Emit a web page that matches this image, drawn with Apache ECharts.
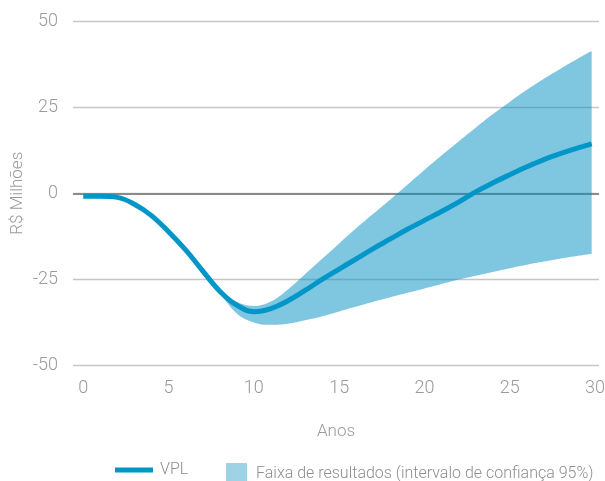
<!DOCTYPE html>
<html>
<head>
<meta charset="utf-8">
<script src="https://cdn.jsdelivr.net/npm/echarts@6/dist/echarts.min.js"></script>
<style>html,body{margin:0;padding:0;background:#fff;}#c{width:605px;height:481px;}</style>
</head>
<body>
<div id="c"></div>
<script>
const years = [0,1,2,3,4,5,6,7,8,9,10,11,12,13,14,15,16,17,18,19,20,21,22,23,24,25,26,27,28,29,29.8];
const vpl   = [-0.9,-0.9,-1.2,-3.2,-6.5,-11.2,-16.5,-22.6,-28.5,-32.6,-34.5,-33.6,-31.3,-28.3,-25.1,-22.1,-19.1,-16.1,-13.3,-10.5,-7.9,-5.3,-2.6,0.4,3.0,5.4,7.7,9.8,11.6,13.2,14.4];
const upper = [-0.9,-0.9,-1.2,-3.2,-6.5,-11.2,-16.5,-22.6,-28.0,-31.6,-32.8,-31.5,-28.0,-23.6,-19.1,-14.6,-10.2,-6.0,-1.8,2.5,6.8,11.0,15.1,19.1,23.0,26.6,30.1,33.3,36.3,39.2,41.4];
const lower = [-0.9,-0.9,-1.2,-3.2,-6.5,-11.2,-16.5,-22.6,-29.0,-35.0,-37.6,-38.3,-38.0,-37.0,-35.8,-34.4,-33.0,-31.6,-30.3,-29.0,-27.7,-26.4,-25.1,-24.0,-22.9,-21.8,-20.8,-19.9,-19.0,-18.2,-17.6];
const xTicks = [0,5,10,15,20,25,30];
const yTicks = [-50,-25,0,25,50];
const lineName = 'VPL';
const bandName = 'Faixa de resultados (intervalo de confiança 95%)';

const FONT = 'Roboto, sans-serif';
const TXT = '#9a9a9a';

// [value, year] so that stacking applies to the value dimension
const pairs = arr => years.map((x, i) => [arr[i], x]);
const diff = years.map((x, i) => [+(upper[i] - lower[i]).toFixed(2), x]);

const chart = echarts.init(document.getElementById('c'), null, {renderer: 'canvas'});
chart.setOption({
  animation: false,
  backgroundColor: '#fff',
  grid: {left: 73, right: 6, top: 21.5, bottom: 116, containLabel: false, outerBoundsMode: 'none'},
  xAxis: {
    type: 'value', min: -0.6, max: 30.23,
    name: 'Anos', nameLocation: 'middle', nameGap: 58,
    nameTextStyle: {color: TXT, fontFamily: FONT, fontSize: 17, fontWeight: 300},
    axisLine: {show: false}, axisTick: {show: false}, splitLine: {show: false},
    axisLabel: {customValues: xTicks, color: TXT, fontFamily: FONT, fontSize: 18, fontWeight: 300, margin: 14}
  },
  yAxis: {
    type: 'value', min: -50, max: 50, interval: 25,
    name: 'R$ Milhões', nameLocation: 'middle', nameGap: 47, nameMoveOverlap: false,
    nameTextStyle: {color: TXT, fontFamily: FONT, fontSize: 17, fontWeight: 300},
    axisLine: {show: false}, axisTick: {show: false},
    axisLabel: {customValues: yTicks, color: TXT, fontFamily: FONT, fontSize: 18, fontWeight: 300, margin: 15},
    splitLine: {show: true, lineStyle: {color: '#c6c6c6', width: 1.3}}
  },
  legend: [
    {data: [{name: lineName, icon: 'rect', itemStyle: {color: '#0096c8'}}],
     left: 110, top: 457, itemWidth: 38, itemHeight: 5, selectedMode: false,
     textStyle: {color: '#8e8e8e', fontFamily: FONT, fontSize: 16, fontWeight: 300, padding: [0,0,0,2]}},
    {data: [{name: bandName, icon: 'rect', itemStyle: {color: '#a0d2e6'}}],
     left: 221, top: 458, itemWidth: 21, itemHeight: 22, selectedMode: false,
     textStyle: {color: '#8e8e8e', fontFamily: FONT, fontSize: 16, fontWeight: 300, padding: [0,0,0,4]}}
  ],
  series: [
    {name: 'inferior', type: 'line', data: pairs(lower), encode: {x: 1, y: 0},
     stack: 'band', stackStrategy: 'all', smooth: 0.4,
     symbol: 'none', lineStyle: {opacity: 0}, silent: true, z: 2},
    {name: bandName, type: 'line', data: diff, encode: {x: 1, y: 0},
     stack: 'band', stackStrategy: 'all', smooth: 0.4,
     symbol: 'none', lineStyle: {opacity: 0}, silent: true, z: 2,
     areaStyle: {color: 'rgba(0,141,193,0.5)', opacity: 1}},
    {name: lineName, type: 'line', data: pairs(vpl), encode: {x: 1, y: 0}, smooth: 0.4, symbol: 'none', z: 4,
     lineStyle: {color: '#0096c8', width: 5},
     markLine: {silent: true, symbol: 'none', label: {show: false},
       lineStyle: {color: '#8a8a8a', width: 2, type: 'solid'},
       data: [{yAxis: 0}], z: 1}}
  ]
});
</script>
</body>
</html>
